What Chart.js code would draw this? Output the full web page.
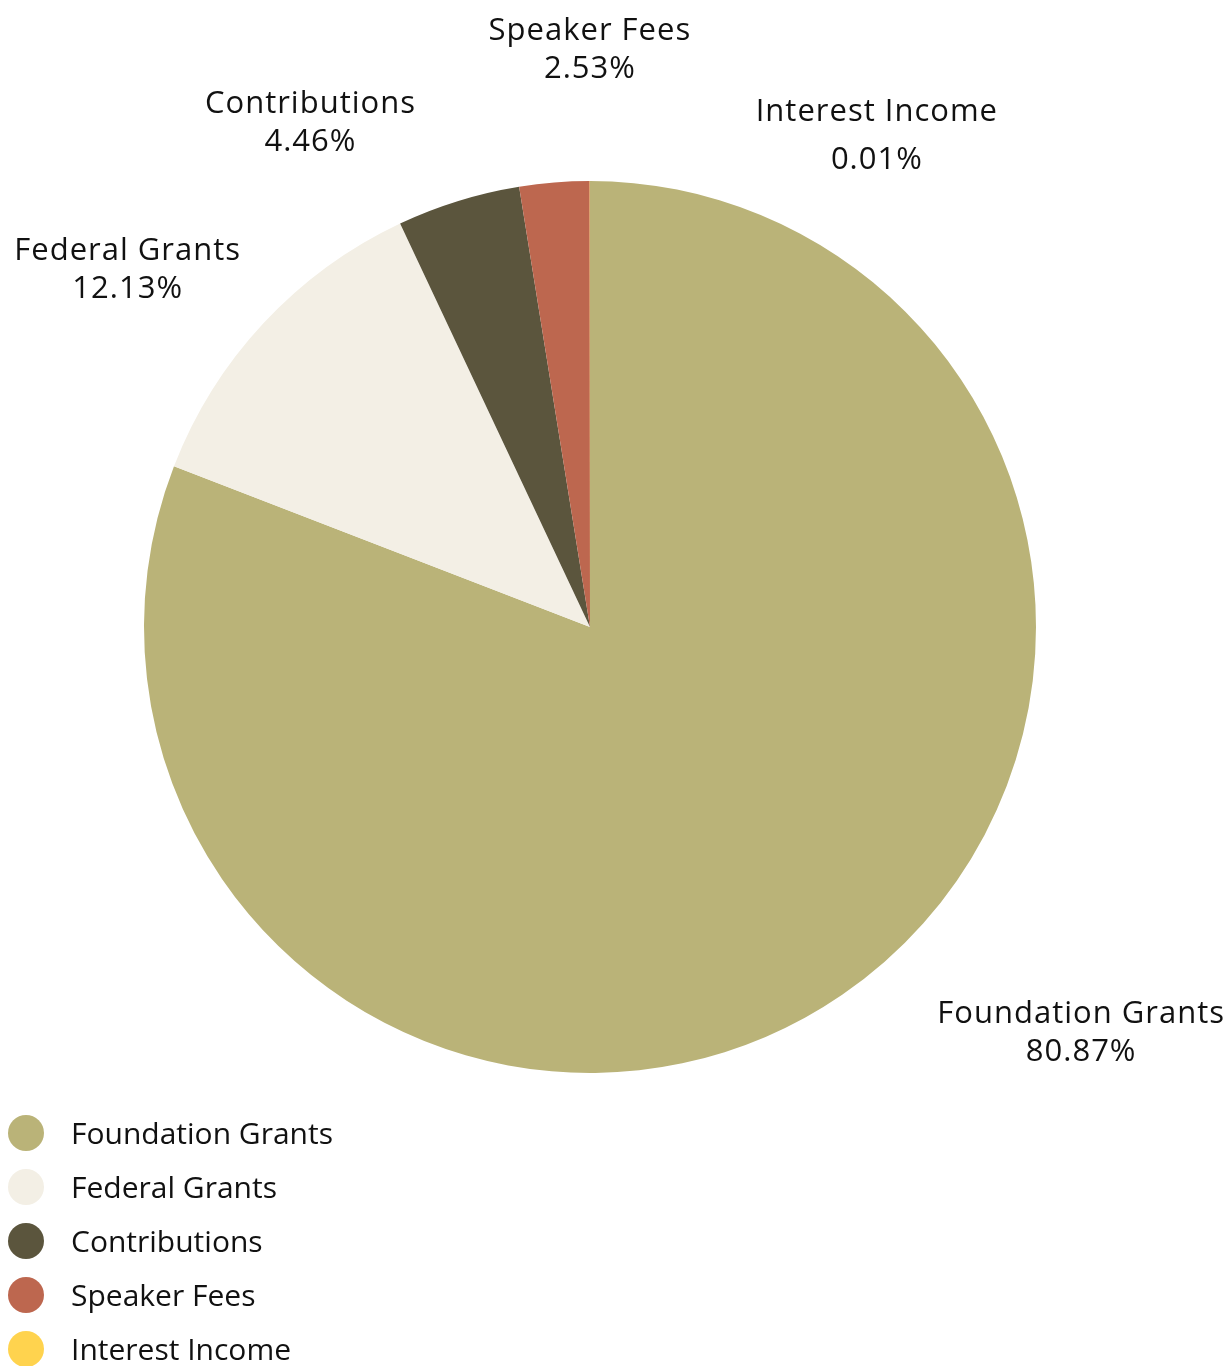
<!DOCTYPE html>
<html>
<head>
<meta charset="utf-8">
<script src="https://cdn.jsdelivr.net/npm/chart.js@4"></script>
<style>
  html, body { margin: 0; padding: 0; background: #fff; }
  #wrap { width: 1231px; height: 1366px; position: relative; }
</style>
</head>
<body>
<div id="wrap"><canvas id="pie"></canvas></div>
<script>
// chart data
const categories = ['Foundation Grants', 'Federal Grants', 'Contributions', 'Speaker Fees', 'Interest Income'];
const shares = [80.87, 12.13, 4.46, 2.53, 0.01];
const sliceColors = ['#BAB378', '#F3EFE5', '#5B553D', '#BD674F', '#FFD34E'];

const FONT = '"Open Sans", sans-serif';

// nudges for each outside label, relative to a point just outside the arc
const labelNudge = [[222, -5], [-114, -51], [-139, -68], [38, -121], [287, -39]];

// Function to draw labels outside the slices
const outsideLabels = {
    id: 'outsideLabels',
    afterDatasetsDraw(chart) {
        const ctx = chart.ctx;
        const meta = chart.getDatasetMeta(0);
        ctx.save();
        ctx.font = '31px ' + FONT;
        ctx.letterSpacing = '1px';
        ctx.fillStyle = '#111';
        ctx.textBaseline = 'middle';
        ctx.textAlign = 'center';
        meta.data.forEach((arc, i) => {
            const mid = (arc.startAngle + arc.endAngle) / 2;
            const r = arc.outerRadius + 30;
            const x = arc.x + Math.cos(mid) * r + labelNudge[i][0];
            const y = arc.y + Math.sin(mid) * r + labelNudge[i][1];
            const gap = i === 4 ? 48 : 38;
            ctx.fillText(categories[i], x, y);
            ctx.fillText(shares[i].toFixed(2) + '%', x, y + gap);
        });
        ctx.restore();
    }
};

// Function to draw the legend in the bottom left corner
const sideLegend = {
    id: 'sideLegend',
    afterDraw(chart) {
        const ctx = chart.ctx;
        ctx.save();
        ctx.font = '30px ' + FONT;
        ctx.textBaseline = 'middle';
        ctx.textAlign = 'left';
        categories.forEach((name, i) => {
            const y = 1133 + i * 54;
            ctx.beginPath();
            ctx.arc(26, y, 18, 0, Math.PI * 2);
            ctx.fillStyle = sliceColors[i];
            ctx.fill();
            ctx.fillStyle = '#111';
            ctx.fillText(name, 71, y + 2);
        });
        ctx.restore();
    }
};

const ctx = document.getElementById('pie').getContext('2d');
const chart = new Chart(ctx, {
    type: 'pie',
    data: {
        labels: categories,
        datasets: [{
            data: shares,
            backgroundColor: sliceColors,
            borderWidth: 0
        }]
    },
    options: {
        responsive: true,
        maintainAspectRatio: false,
        animation: false,
        layout: { padding: { top: 181, bottom: 293, left: 144, right: 195 } },
        plugins: {
            legend: { display: false },
            tooltip: { enabled: false }
        }
    },
    plugins: [outsideLabels, sideLegend]
});
</script>
</body>
</html>
